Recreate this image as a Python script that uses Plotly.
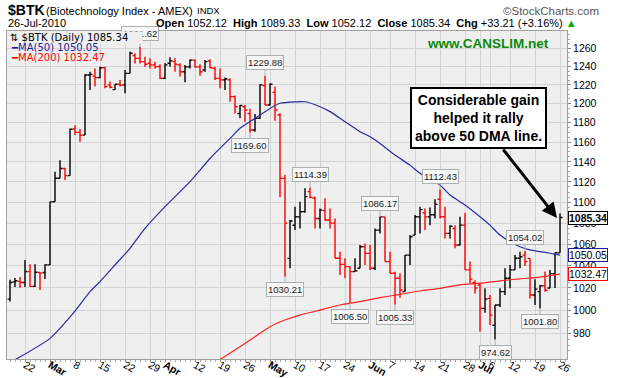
import numpy as np
import pandas as pd
import plotly.graph_objects as go

# ---------------- data ----------------
holidays = ["2010-04-02", "2010-05-31", "2010-07-05"]
dates = [d for d in pd.bdate_range("2010-02-17", "2010-07-26") if d.strftime("%Y-%m-%d") not in holidays]

opens = [1010, 1025.5, 1026, 1025, 1034.8, 1021.5, 1034, 1034, 1041, 1100.6,
         1123.6, 1133.4, 1126.2, 1173.5, 1170, 1167.2, 1230.7, 1229.5, 1227.9, 1238.6,
         1220, 1215, 1220.7, 1220, 1232.5, 1252, 1248.9, 1245.3, 1243.5, 1241.7,
         1240, 1227.1, 1243.5, 1245.3, 1241.7, 1234.3, 1239.6, 1247, 1239.6, 1236.1,
         1246, 1237.9, 1227.1, 1225.4, 1225.4, 1207.5, 1189.7, 1196.8, 1189.7, 1172.4,
         1184.6, 1219.3, 1198.6, 1212, 1188, 1123.5, 1047, 1078, 1086, 1091,
         1110.5, 1104, 1084.5, 1092, 1083, 1080, 1047.1, 1041.5, 1039.4, 1034.8,
         1037.9, 1057.8, 1051.6, 1037.9, 1073.4, 1086, 1044, 1033.3, 1028.8, 1016.7,
         1050, 1068.7, 1086, 1090, 1086, 1088, 1103, 1086.1, 1070.3, 1075,
         1059.4, 1078.1, 1036.4, 1025, 1022.7, 1001.8, 1010.7, 987, 1004.8, 1016.7,
         1028.8, 1036.4, 1047.1, 1050, 1047, 1013.7, 1016.7, 1022, 1020, 1033,
         1052.12]
highs = [1027.5, 1029, 1030, 1045.6, 1041.5, 1041.5, 1034.2, 1041.5, 1100.6, 1130.2,
         1141.7, 1134, 1174, 1177.5, 1173.5, 1231.4, 1234.3, 1237.9, 1239.6, 1239.6,
         1223.6, 1221.1, 1225.4, 1236.1, 1256.3, 1254.5, 1261.62, 1250.7, 1248.9, 1245.3,
         1242.4, 1243.5, 1250, 1248.9, 1243.5, 1241.7, 1247.8, 1247.8, 1242.4, 1247,
         1247.8, 1239.6, 1237.9, 1227.9, 1227.1, 1208.6, 1198.6, 1198.6, 1195, 1189,
         1220.7, 1229.88, 1221.8, 1218, 1190, 1127, 1083, 1095.7, 1100.6, 1113.8,
         1114.39, 1105.6, 1094.1, 1103.9, 1094.1, 1084.4, 1053.2, 1047, 1039.4, 1047,
         1059.4, 1060.9, 1059.4, 1075, 1086.17, 1086.1, 1053.2, 1034.8, 1033.3, 1050.2,
         1068.7, 1087.7, 1095.8, 1094, 1095, 1103, 1112.43, 1095.8, 1078.1, 1078,
         1086.1, 1090, 1044, 1027, 1024, 1019.7, 1013.7, 1004.8, 1019.7, 1037.9,
         1040.9, 1050.2, 1053.2, 1054.02, 1047.1, 1028, 1022.7, 1034.9, 1036.4, 1052.5,
         1089.33]
lows = [1008, 1021, 1020.3, 1021, 1021.2, 1021, 1018.2, 1028.2, 1041, 1100.6,
        1123.6, 1122, 1126.2, 1167.2, 1160.3, 1167.2, 1214.6, 1218.2, 1227.1, 1216.4,
        1216.4, 1214.6, 1218.2, 1211, 1232.5, 1243.3, 1243.3, 1239.6, 1237.9, 1237.9,
        1226.4, 1226.4, 1239.6, 1234.3, 1229, 1222.9, 1237.9, 1238.6, 1230, 1234.3,
        1237.9, 1225.4, 1216.4, 1214.6, 1202, 1189.7, 1184.6, 1181, 1169.6, 1170.7,
        1184, 1198.6, 1197.9, 1182, 1105, 1030.21, 1038, 1073.4, 1075, 1090,
        1103.9, 1075, 1075, 1082, 1075, 1047.1, 1031.8, 1028.8, 1006.5, 1034.8,
        1037.9, 1040.9, 1036.3, 1036.3, 1070.3, 1044, 1033.3, 1005.33, 1011.3, 1016.7,
        1040.9, 1068.7, 1070.3, 1073.4, 1078, 1084.5, 1084.5, 1065.6, 1065.6, 1056.3,
        1059, 1036.4, 1024.2, 1015, 981.4, 998, 987.2, 974.62, 1003, 1013.7,
        1019.7, 1036.4, 1037.9, 1040, 1010.7, 1004.8, 1001.8, 1016.7, 1019.7, 1020,
        1052.12]
closes = [1025, 1026.5, 1025, 1035, 1021.5, 1034.2, 1033.5, 1041, 1100.5, 1123.6,
          1133.4, 1126.2, 1173.3, 1170, 1167.2, 1230.7, 1231.4, 1227.9, 1238.6, 1218.2,
          1217.5, 1220.7, 1219.5, 1232.5, 1254.5, 1248.9, 1245.3, 1242.4, 1241.7, 1239.6,
          1227.1, 1241.7, 1246.1, 1242.4, 1234.3, 1239.6, 1247, 1239.6, 1234.3, 1245.3,
          1238.6, 1227.1, 1225.4, 1226.4, 1207.5, 1196.8, 1198, 1193.3, 1172.4, 1184.6,
          1220, 1198.6, 1220.7, 1193.3, 1123.5, 1080, 1082, 1086.1, 1090.9, 1105.6,
          1104.8, 1084.5, 1092.5, 1083, 1080, 1047.1, 1041.5, 1039.4, 1034.8, 1035.5,
          1057.8, 1051.6, 1037.9, 1073.4, 1086, 1044, 1033.3, 1028.8, 1018.2, 1050,
          1067.1, 1086.1, 1093, 1086, 1088, 1098, 1086.1, 1070.3, 1077, 1059.4,
          1078.1, 1036.4, 1028, 1020, 1001.8, 1010, 995.9, 1004.8, 1016.7, 1028.8,
          1036.4, 1047.1, 1048.5, 1044, 1013.7, 1019, 1022, 1018, 1033, 1052.13,
          1085.34]

ma50_dates = ["2010-02-18", "2010-03-01", "2010-03-08", "2010-03-11", "2010-03-15", "2010-03-18",
              "2010-03-23", "2010-03-26", "2010-04-01", "2010-04-09", "2010-04-15", "2010-04-21",
              "2010-04-23", "2010-04-28", "2010-05-03", "2010-05-05", "2010-05-10", "2010-05-12",
              "2010-05-17", "2010-05-19", "2010-05-24", "2010-05-27", "2010-06-01", "2010-06-03",
              "2010-06-08", "2010-06-11", "2010-06-15", "2010-06-21", "2010-06-23", "2010-06-28",
              "2010-07-01", "2010-07-06", "2010-07-08", "2010-07-12", "2010-07-14", "2010-07-16",
              "2010-07-20", "2010-07-22", "2010-07-26"]
ma50_vals = [957.5, 975.7, 999.4, 1016.7, 1025.8, 1040.9,
             1056.3, 1075, 1095.8, 1120.3, 1143.4, 1163.8,
             1174.3, 1184.6, 1195, 1200.4, 1202, 1202,
             1196.8, 1191.6, 1181, 1170.7, 1165.5, 1158.6,
             1146.8, 1136.7, 1128.5, 1117, 1107.1, 1097.4,
             1086.1, 1078.1, 1068.7, 1062.5, 1057.8, 1054.8,
             1053.2, 1051.7, 1050.05]
ma200_dates = ["2010-04-19", "2010-04-23", "2010-04-28", "2010-05-03", "2010-05-06", "2010-05-11",
               "2010-05-17", "2010-05-21", "2010-05-27", "2010-06-03", "2010-06-09", "2010-06-15",
               "2010-06-21", "2010-06-25", "2010-07-01", "2010-07-08", "2010-07-14", "2010-07-20",
               "2010-07-26"]
ma200_vals = [957.7, 968.6, 977.1, 985.8, 991.6, 995.9,
              1000.3, 1004.8, 1007.8, 1011.3, 1014.3, 1017.3,
              1019.7, 1022.8, 1024.3, 1026.5, 1028.3, 1029.8,
              1032.47]

high_labels = ["2010-03-25", "2010-04-30", "2010-05-13", "2010-06-03", "2010-06-21", "2010-07-15"]
low_labels = ["2010-04-27", "2010-05-06", "2010-05-25", "2010-06-08", "2010-07-07", "2010-07-20"]

tick_dates = ["2010-02-22", "2010-03-01", "2010-03-08", "2010-03-15", "2010-03-22", "2010-03-29",
              "2010-04-01", "2010-04-12", "2010-04-19", "2010-04-26", "2010-05-03", "2010-05-10",
              "2010-05-17", "2010-05-24", "2010-06-01", "2010-06-07", "2010-06-14", "2010-06-21",
              "2010-06-28", "2010-07-01", "2010-07-06", "2010-07-12", "2010-07-19", "2010-07-26"]
tick_labels = ["22", "<b>Mar</b>", "8", "15", "22", "29", "<b>Apr</b>", "12", "19", "26",
               "<b>May</b>", "10", "17", "24", "<b>Jun</b>", "7", "14", "21", "28", "<b>Jul</b>",
               "6", "12", "19", "26"]
y_ticks = [980, 1000, 1020, 1040, 1060, 1080, 1100, 1120, 1140, 1160, 1180, 1200, 1220, 1240, 1260]

# ---------------- helpers ----------------
date_str = [d.strftime("%Y-%m-%d") for d in dates]
pos = {d: i for i, d in enumerate(date_str)}
n = len(dates)
xs = list(range(n))

FONT = "Liberation Sans, Arial, sans-serif"
L, R, T, B = 7, 51, 31, 19
W, H = 618, 378
PW, PH = W - L - R, H - T - B


def px(x):
    return (x - L) / PW


def py(y):
    return 1 - (y - T) / PH


fig = go.Figure()

up = [i for i in xs if i == 0 or closes[i] >= closes[i - 1]]
dn = [i for i in xs if i not in up]
for idx, col in ((up, "black"), (dn, "#ff0000")):
    fig.add_trace(go.Ohlc(
        x=[xs[i] for i in idx],
        open=[opens[i] for i in idx], high=[highs[i] for i in idx],
        low=[lows[i] for i in idx], close=[closes[i] for i in idx],
        increasing=dict(line=dict(color=col, width=1.4)),
        decreasing=dict(line=dict(color=col, width=1.4)),
        tickwidth=0.5, hoverinfo="skip", showlegend=False))

fig.add_trace(go.Scatter(x=[pos[d] for d in ma50_dates], y=ma50_vals, mode="lines",
                         line=dict(color="#2b2ba6", width=1.2, shape="spline", smoothing=0.6),
                         hoverinfo="skip", showlegend=False))
fig.add_trace(go.Scatter(x=[pos[d] for d in ma200_dates], y=ma200_vals, mode="lines",
                         line=dict(color="#ff2020", width=1.2, shape="spline", smoothing=0.6),
                         hoverinfo="skip", showlegend=False))

ann = []
lab_style = dict(font=dict(family=FONT, size=9.5, color="#222"), bgcolor="#f7f7f7",
                 bordercolor="#a8b0b0", borderwidth=1, borderpad=1, showarrow=True,
                 arrowcolor="#a8b0b0", arrowwidth=1, arrowhead=0, ax=0, standoff=0)
for d in high_labels:
    i = pos[d]
    ann.append(dict(x=i, y=np.log10(highs[i]), xref="x", yref="y", text=f"{highs[i]:.2f}",
                    ay=-13, **lab_style))
for d in low_labels:
    i = pos[d]
    ann.append(dict(x=i, y=np.log10(lows[i]), xref="x", yref="y", text=f"{lows[i]:.2f}",
                    ay=13, **lab_style))

# legend block (inside plot)
LEG = "DejaVu Sans, Verdana, sans-serif"
ann.append(dict(x=px(9), y=py(37), xref="paper", yref="paper", xanchor="left", yanchor="middle",
                text=f"⇅ $BTK (Daily) {closes[-1]:.2f}", showarrow=False, bgcolor="#efefef",
                width=132, align="left",
                font=dict(family=LEG, size=10, color="black"), borderpad=0))
ann.append(dict(x=px(10), y=py(47.5), xref="paper", yref="paper", xanchor="left", yanchor="middle",
                text=f"<b>━</b>MA(50) {ma50_vals[-1]:.2f}", showarrow=False,
                font=dict(family=LEG, size=10, color="#1c1c9c"), borderpad=0))
ann.append(dict(x=px(10), y=py(57.5), xref="paper", yref="paper", xanchor="left", yanchor="middle",
                text=f"<b>━</b>MA(200) {ma200_vals[-1]:.2f}", showarrow=False,
                font=dict(family=LEG, size=10, color="#ff0000"), borderpad=0))

# right-side last value boxes
for val, col in ((closes[-1], "black"), (ma50_vals[-1], "#1c1c9c"), (ma200_vals[-1], "#ff0000")):
    ann.append(dict(x=1, y=np.log10(val), xref="paper", yref="y", xanchor="left", yanchor="middle",
                    xshift=1, text=(f"<b>{val:.2f}</b>" if col == "black" else f"{val:.2f}"),
                    showarrow=False, bgcolor="white", bordercolor=col, borderwidth=1, borderpad=0,
                    font=dict(family=FONT, size=10.5, color="black")))

# header
hdr = [
    dict(x=px(6), y=py(10), text="<b>$BTK</b>", font=dict(family=FONT, size=14, color="black")),
    dict(x=px(44), y=py(11), text="(Biotechnology Index - AMEX)",
         font=dict(family=FONT, size=11, color="black")),
    dict(x=px(195), y=py(11), text="INDX", font=dict(family=FONT, size=9.5, color="black")),
    dict(x=px(601), y=py(10.5), text="©StockCharts.com", xanchor="right",
         font=dict(family=FONT, size=11.5, color="#555")),
    dict(x=px(6), y=py(23.5), text="26-Jul-2010", font=dict(family=FONT, size=11, color="black")),
    dict(x=px(579), y=py(23.5), xanchor="right",
         text=("<b>Open</b> 1052.12  <b>High</b> 1089.33  <b>Low</b> 1052.12  "
               "<b>Close</b> 1085.34  <b>Chg</b> +33.21 (+3.16%) <span style='color:#00b000'>▲</span>"),
         font=dict(family=FONT, size=11, color="black")),
]
for a in hdr:
    a.setdefault("xanchor", "left")
    a.update(xref="paper", yref="paper", yanchor="middle", showarrow=False)
ann += hdr

# site text and commentary
ann.append(dict(x=px(488), y=py(43), xref="paper", yref="paper", xanchor="center", yanchor="middle",
                text="<b>www.CANSLIM.net</b>", showarrow=False,
                font=dict(family=FONT, size=13.5, color="#0a8a0a")))
ann.append(dict(x=px(478), y=py(118), xref="paper", yref="paper", xanchor="center", yanchor="middle",
                text="<b>Considerable gain<br>helped it rally<br>above 50 DMA line.</b>",
                showarrow=False, bgcolor="white", bordercolor="black", borderwidth=2, borderpad=3,
                font=dict(family=FONT, size=14, color="black")))
ann.append(dict(x=px(557), y=py(218), xref="paper", yref="paper", text="", showarrow=True,
                ax=-55, ay=-70, arrowhead=2, arrowsize=1, arrowwidth=3, arrowcolor="black"))

fig.update_layout(
    width=W, height=H, margin=dict(l=L, r=R, t=T, b=B, autoexpand=False),
    paper_bgcolor="white", plot_bgcolor="#efefef",
    annotations=ann, showlegend=False,
    xaxis=dict(range=[-0.6, n + 0.4], tickmode="array", tickvals=[pos[d] for d in tick_dates],
               ticktext=tick_labels, showgrid=True, gridcolor="#d4d4d4", gridwidth=1,
               tickfont=dict(family=FONT, size=10.5, color="black"), ticks="outside", ticklen=2,
               ticklabelstandoff=-7,
               tickcolor="#888", showline=True, linecolor="#a0a0a0", mirror=True, automargin=False,
               rangeslider=dict(visible=False), zeroline=False, fixedrange=True,
               minor=dict(dtick=1, ticklen=2, ticks="outside", tickcolor="#aaa", showgrid=False)),
    yaxis=dict(type="log", side="right", range=[np.log10(958.1), np.log10(1279.4)],
               tickmode="array", tickvals=y_ticks, ticktext=[str(v) for v in y_ticks],
               showgrid=True, gridcolor="#d4d4d4", gridwidth=1, fixedrange=True, automargin=False,
               tickfont=dict(family=FONT, size=10.5, color="black"), ticks="outside", ticklen=3,
               tickcolor="#888", showline=True, linecolor="#a0a0a0", mirror=True, zeroline=False,
               minor=dict(tickvals=list(range(965, 1280, 5)), ticklen=2, ticks="outside",
                          tickcolor="#aaa", showgrid=False)),
)

fig.write_html("out.html", config={"displayModeBar": False, "staticPlot": True},
               post_script="document.body.style.margin='0';document.body.style.overflow='hidden';")
